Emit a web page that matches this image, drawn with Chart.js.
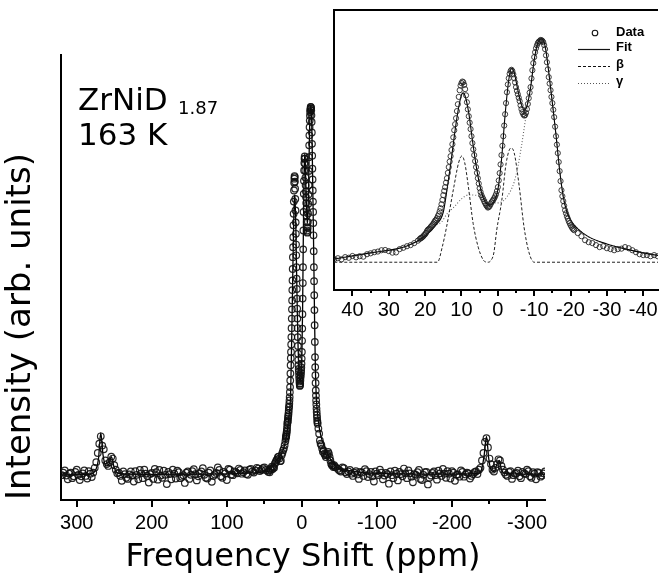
<!DOCTYPE html>
<html>
<head>
<meta charset="utf-8">
<script src="https://cdn.jsdelivr.net/npm/chart.js@4.4.1/dist/chart.umd.min.js"></script>
<style>
  html, body { margin: 0; padding: 0; background: #fff; }
  #wrap { position: relative; width: 663px; height: 575px; overflow: hidden; }
  #main { position: absolute; left: 0; top: 0; }
  #inset { position: absolute; left: 326px; top: 0; }
</style>
</head>
<body>
<div id="wrap">
  <canvas id="main" width="663" height="575"></canvas>
  <canvas id="inset" width="337" height="330"></canvas>
</div>
<script>
// ---- data (intensity in arb. units, main peak ~ 100) ----
// wings, one point every 4 ppm, plus a second set shifted by 2 ppm
const wingStep = 4;
const leftWingStart = 320;   // 320 ... 48 ppm
const leftWing = [
  0.5, 1.8, -0.6, 1.2, 0.2, 2.0, -0.8, 1.0, 0.3, 1.6,
  0.0, 2.5, 6.5, 11.0, 7.5, 3.5, 4.0, 5.0, 2.0, 1.2,
  -1.0, 0.8, -0.5, 1.5, -1.2, 0.6, 1.9, -0.3, 0.9, -1.5,
  1.1, 2.2, -0.7, 0.4, 1.7, -1.9, 0.8, 2.0, -0.4, 1.3,
  0.1, -1.6, 1.5, 0.6, 2.1, -0.9, 1.0, 2.4, -0.2, 1.2,
  -1.3, 0.7, 2.6, 0.2, 1.4, -0.8, 2.0, 0.5, 1.3, 2.3,
  0.9, 1.8, 0.6, 2.2, 1.2, 2.5, 1.6, 2.4, 1.9
];
const leftWingMidStart = 318; // 318 ... 50 ppm
const leftWingMid = [
  1.2, 0.4, 0.9, -0.3, 1.4, 0.6, 0.2, 1.8, -0.4, 0.9,
  1.2, 4.0, 9.0, 8.5, 4.5, 3.0, 5.5, 3.2, 1.0, 0.3,
  1.5, -0.2, 0.7, 0.4, 1.6, -0.6, 1.0, 2.0, 0.3, 0.8,
  -0.5, 1.3, 1.9, -0.2, 0.6, 1.4, -0.6, 0.9, 1.7, -0.3,
  0.5, 1.2, -0.5, 1.6, 0.8, 0.2, 1.5, 0.6, -0.4, 1.8,
  0.3, 1.1, 1.9, -0.2, 1.0, 2.2, 0.7, 1.5, 1.0, 1.9,
  1.3, 0.8, 2.0, 1.5, 1.8, 2.3, 1.9, 2.6
];
const rightWingStart = -48;  // -48 ... -324 ppm
const rightWing = [
  2.2, 1.5, 2.4, 0.8, 1.9, 0.3, 1.6, -0.5, 1.2, 2.1,
  0.0, 1.4, -1.2, 0.9, 2.0, -0.6, 1.1, -1.8, 0.5, 1.7,
  -0.9, 0.8, 2.3, -0.3, 1.0, -1.4, 0.6, 1.9, -0.8, 1.3,
  -2.0, 0.4, 1.5, -0.7, 1.0, 2.2, -0.2, 0.9, 1.6, -1.0,
  0.7, 1.8, 0.1, 1.2, -0.4, 0.8, 1.5, 2.0, 4.5, 9.5,
  8.0, 3.5, 1.5, 3.5, 4.5, 2.0, 0.6, 1.4, -0.5, 0.9,
  1.7, -0.3, 1.0, 2.0, 0.2, 1.3, -0.6, 1.1, 0.4, 1.5
];
const rightWingMidStart = -50; // -50 ... -322 ppm
const rightWingMid = [
  1.8, 2.6, 1.3, 1.5, 0.9, 1.2, 0.7, 1.4, 0.3, 1.6,
  0.8, 0.2, 1.5, 0.5, 1.2, 0.4, 0.8, 1.5, -0.3, 0.9,
  1.4, 0.2, 1.0, 1.8, 0.1, 0.8, 1.3, -0.5, 0.6, 1.4,
  -0.2, 1.1, 0.5, 1.7, 0.3, 0.9, 1.6, -0.4, 1.2, 0.6,
  0.1, 1.4, 0.7, 1.0, 0.3, 1.3, 0.8, 2.5, 6.5, 10.5,
  5.0, 2.0, 2.5, 4.8, 3.0, 1.2, 0.3, 1.6, 0.5, 1.1,
  0.2, 1.4, 0.8, 1.6, -0.2, 0.9, 1.3, 0.1, 1.0
];
// centre, 1 ppm steps outside +-22, 0.25 ppm steps inside
const outerLeftStart = 45;   // 45 ... 22
const outerLeft = [
  1.4, 1.8, 1.3, 2.3, 2.0, 2.8, 2.2, 2.7, 2.5, 3.6,
  4.0, 4.5, 4.8, 5.4, 5.5, 5.0, 4.3, 4.4, 5.9, 6.5,
  7.2, 7.7, 8.6, 9.7
];
const coreStep = 0.5;
const coreStart = 21.5;      // 21.5 ... -21
const core = [
  10.4, 11.0, 11.7, 12.6, 14.0, 14.9, 15.8, 16.7, 18.0, 19.1,
  20.7, 22.9, 26.1, 30.2, 33.8, 37.8, 42.8, 47.7, 53.1, 59.4,
  64.8, 71.1, 77.4, 80.6, 81.0, 77.9, 72.0, 65.7, 59.9, 53.6,
  48.2, 42.8, 37.8, 33.3, 30.2, 28.4, 26.6, 25.2, 24.8, 26.1,
  27.5, 28.8, 30.6, 33.8, 40.1, 48.2, 56.7, 66.6, 76.5, 82.8,
  86.0, 86.0, 82.8, 78.8, 75.6, 72.5, 68.9, 66.6, 66.2, 68.9,
  73.8, 78.8, 86.4, 92.3, 96.3, 98.6, 99.5, 99.9, 99.0, 95.9,
  90.0, 83.3, 77.4, 71.6, 65.3, 56.7, 49.1, 41.0, 32.4, 27.5,
  23.4, 20.7, 18.5, 16.7, 15.3, 14.4
];
const coreMidStart = 21.25;  // 21.25 ... -20.75
const coreMid = [
  10.8, 11.3, 12.2, 13.2, 14.6, 15.2, 16.3, 17.3, 18.7, 19.8,
  21.6, 24.3, 28.0, 32.1, 35.8, 40.2, 45.3, 50.5, 56.2, 62.1,
  68.0, 74.4, 79.5, 81.3, 79.8, 75.1, 68.8, 62.8, 56.7, 50.8,
  45.5, 40.2, 35.4, 31.6, 29.2, 27.4, 25.8, 24.6, 25.3, 26.9,
  28.1, 29.6, 32.0, 36.8, 44.0, 52.4, 61.5, 71.6, 80.0, 84.8,
  86.6, 84.6, 80.9, 77.1, 74.0, 70.6, 67.5, 66.0, 67.2, 71.2,
  76.3, 82.7, 89.6, 94.5, 97.6, 99.2, 100.0, 99.6, 97.7, 93.1,
  86.8, 80.4, 74.4, 68.6, 61.0, 52.9, 45.1, 36.5, 29.7, 25.4,
  22.0, 19.6, 17.6, 16.0, 14.8
];
const outerRightStart = -22; // -22 ... -45
const outerRight = [
  13.1, 11.7, 9.9, 9.0, 8.6, 7.7, 6.8, 7.2, 6.3, 5.9,
  5.4, 5.9, 6.1, 6.8, 6.3, 5.4, 4.5, 3.6, 3.2, 3.2,
  2.7, 3.2, 2.7, 2.7
];

// fitted curves, [ppm, intensity]
const fitCenter = [
  [45, 1.5], [35, 4.2], [25, 7.3], [20, 11.8], [17, 16.8], [15, 22.6], [14, 32.5],
  [13, 43.8], [12, 56.4], [11, 67.6], [10, 75.3], [9.5, 76.2], [9, 74.8], [8, 67.2],
  [7, 55.0], [6, 43.8], [5, 34.8], [4, 28.9], [3, 26.2], [2, 25.8], [1, 27.6],
  [0, 32.5], [-1, 46.0], [-2, 66.3], [-3, 82.0], [-3.8, 87.4], [-4.5, 85.2],
  [-5.5, 77.5], [-6.5, 70.8], [-7.3, 68.5], [-8, 70.3], [-9, 78.4], [-10, 91.0],
  [-11, 98.7], [-12, 100.5], [-13, 97.3], [-14, 85.6], [-15, 71.7], [-16, 57.3],
  [-17, 41.5], [-18, 29.4], [-19, 22.6], [-20, 19.0], [-22, 15.0], [-25, 11.4],
  [-30, 8.2], [-35, 6.0], [-40, 4.2], [-45, 2.8]
];
const fitLeftWing = [
  [321, 0.6], [285, 0.7], [276, 1.5], [271, 5], [268, 12], [265, 6], [261, 3],
  [257, 3.5], [254, 5.5], [250, 2.5], [244, 0.9], [200, 0.7], [120, 0.8],
  [80, 1.0], [60, 1.2], [50, 1.4]
];
const fitRightWing = [
  [-50, 2.3], [-60, 1.8], [-100, 1.0], [-200, 0.8], [-236, 1.0], [-240, 2.5],
  [-243, 6], [-246, 11], [-249, 5], [-252, 2], [-256, 1.5], [-260, 3.5],
  [-263, 4.5], [-266, 2], [-270, 1.0], [-300, 0.8], [-324, 0.8]
];
const betaCurve = [
  [45, 0], [16.6, 0], [15.3, 6.8], [14.1, 15.9], [12.1, 33.9], [10.8, 44.7],
  [9.9, 47.8], [9.1, 44.7], [8.1, 33.9], [6.8, 17.5], [5.4, 6.8], [4.0, 1.0],
  [2.8, 0], [2.0, 0.6], [1.1, 4.2], [0.3, 14.5], [-1.1, 28], [-2.3, 44.7],
  [-3.6, 51.4], [-4.5, 49.2], [-5.9, 33.9], [-7.2, 15.9], [-8.6, 4.2], [-10, 0],
  [-45, 0]
];
const gammaCurve = [
  [45, 1.5], [35, 4.2], [25, 7.3], [20, 11.8], [17, 16.8], [15.5, 18.1], [14, 21.7],
  [12, 24.9], [10, 28.5], [8, 30.3], [6, 30.1], [4, 28.9], [2, 27.1], [0, 26.7],
  [-1.5, 27.6], [-2.5, 29.4], [-3.5, 32.1], [-4.5, 36.1], [-5.5, 42.9], [-6.5, 52.3],
  [-7.5, 63.1], [-8.5, 73.9], [-9.5, 84.7], [-10.5, 94.6], [-11.5, 99.6], [-12, 100.5],
  [-13, 97.3], [-14, 85.6], [-15, 71.7], [-16, 57.3], [-17, 41.5], [-18, 29.4],
  [-19, 22.6], [-20, 19.0], [-22, 15.0], [-25, 11.4], [-30, 8.2], [-35, 6.0],
  [-40, 4.2], [-45, 2.8]
];

const mainTicks = [300, 200, 100, 0, -100, -200, -300];
const mainMinorTicks = [250, 150, 50, -50, -150, -250];
const insetTicks = [40, 30, 20, 10, 0, -10, -20, -30, -40];
const insetMinorTicks = [35, 25, 15, 5, -5, -15, -25, -35];
const legendLabels = ['Data', 'Fit', 'β', 'γ'];
const xTitle = 'Frequency Shift (ppm)';
const yTitle = 'Intensity (arb. units)';
const sampleName = 'ZrNiD';
const sampleSub = '1.87';
const sampleTemp = '163 K';

// ---- helpers ----
function gridPoints(start, step, values) {
  return values.map((v, i) => ({ x: start - i * step, y: v }));
}
function pairPoints(list) {
  return list.map(p => ({ x: p[0], y: p[1] }));
}

const centerData = [].concat(
  gridPoints(outerLeftStart, 1, outerLeft),
  gridPoints(coreStart, coreStep, core),
  gridPoints(coreMidStart, coreStep, coreMid),
  gridPoints(outerRightStart, 1, outerRight)
);
const allData = [].concat(
  gridPoints(leftWingStart, wingStep, leftWing),
  gridPoints(leftWingMidStart, wingStep, leftWingMid),
  centerData,
  gridPoints(rightWingStart, wingStep, rightWing),
  gridPoints(rightWingMidStart, wingStep, rightWingMid)
);
const allFit = pairPoints([].concat(fitLeftWing, fitCenter, fitRightWing));

const TICK_FONT = { family: "'Liberation Sans', Arial, sans-serif", size: 20 };
const BIG_FONT = "'DejaVu Sans', sans-serif";

Chart.defaults.color = '#000';
Chart.defaults.font.family = "'Liberation Sans', Arial, sans-serif";

const minorTicks = {
  id: 'minorTicks',
  afterDraw(chart, args, opts) {
    const sx = chart.scales.x, ctx = chart.ctx, y0 = chart.chartArea.bottom;
    ctx.save();
    ctx.strokeStyle = '#000';
    ctx.lineWidth = 2;
    opts.values.forEach(v => {
      const px = Math.round(sx.getPixelForValue(v));
      ctx.beginPath();
      ctx.moveTo(px, y0);
      ctx.lineTo(px, y0 + opts.length);
      ctx.stroke();
    });
    ctx.restore();
  }
};

const sampleLabel = {
  id: 'sampleLabel',
  afterDraw(chart) {
    const ctx = chart.ctx;
    ctx.save();
    ctx.fillStyle = '#000';
    ctx.textBaseline = 'alphabetic';
    ctx.font = '31px ' + BIG_FONT;
    ctx.fillText(sampleName, 78, 110);
    ctx.fillText(sampleTemp, 78, 145);
    ctx.font = '18px ' + BIG_FONT;
    ctx.fillText(sampleSub, 178, 114);
    ctx.restore();
  }
};

const insetFrame = {
  id: 'insetFrame',
  beforeDraw(chart) {
    const a = chart.chartArea, ctx = chart.ctx;
    ctx.save();
    ctx.fillStyle = '#fff';
    ctx.fillRect(a.left, a.top, a.right - a.left, a.bottom - a.top);
    ctx.restore();
  },
  afterDraw(chart) {
    const a = chart.chartArea, ctx = chart.ctx;
    ctx.save();
    ctx.strokeStyle = '#000';
    ctx.lineWidth = 2;
    ctx.beginPath();
    ctx.moveTo(a.left - 1, a.top);
    ctx.lineTo(a.right, a.top);
    ctx.stroke();
    // legend
    const lx0 = 252, lx1 = 284, tx = 290;
    const rows = [33, 48, 65, 82];
    ctx.font = "bold 13px 'Liberation Sans', Arial, sans-serif";
    ctx.textBaseline = 'middle';
    ctx.fillStyle = '#000';
    ctx.lineWidth = 1.1;
    ctx.strokeStyle = '#111';
    ctx.beginPath();
    ctx.arc(269, rows[0], 2.8, 0, Math.PI * 2);
    ctx.stroke();
    const dashes = [[], [3, 2], [1, 2]];
    for (let i = 1; i < 4; i++) {
      ctx.setLineDash(dashes[i - 1]);
      ctx.strokeStyle = i === 3 ? '#555' : '#111';
      ctx.lineWidth = i === 1 ? 1.2 : 1;
      ctx.beginPath();
      ctx.moveTo(lx0, rows[i] + 1.5);
      ctx.lineTo(lx1, rows[i] + 1.5);
      ctx.stroke();
    }
    ctx.setLineDash([]);
    legendLabels.forEach((t, i) => ctx.fillText(t, tx, rows[i] - 1));
    ctx.restore();
  }
};

new Chart(document.getElementById('main'), {
  type: 'scatter',
  data: {
    datasets: [{
      label: 'Data',
      data: allData,
      showLine: false,
      pointRadius: 3.3,
      pointBorderWidth: 1.2,
      pointBorderColor: 'rgba(15,15,15,0.9)',
      pointBackgroundColor: 'rgba(255,255,255,0)'
    }, {
      label: 'Fit',
      data: allFit,
      showLine: true,
      pointRadius: 0,
      borderColor: '#000',
      borderWidth: 1.3,
      cubicInterpolationMode: 'monotone'
    }]
  },
  options: {
    responsive: false,
    animation: false,
    devicePixelRatio: 1,
    layout: { padding: { left: 0, top: 55, right: 118, bottom: 0 } },
    plugins: {
      legend: { display: false },
      tooltip: { enabled: false },
      minorTicks: { values: mainMinorTicks, length: 4 }
    },
    scales: {
      x: {
        type: 'linear',
        min: -324, max: 321, reverse: true,
        afterBuildTicks: s => { s.ticks = mainTicks.map(v => ({ value: v })); },
        afterFit: s => { s.height = 75; },
        ticks: { font: TICK_FONT, padding: 4, maxRotation: 0, autoSkip: false },
        grid: { drawOnChartArea: false, drawTicks: true, tickLength: 7, color: '#000', lineWidth: 2 },
        border: { display: true, color: '#000', width: 2 },
        title: { display: true, text: xTitle, font: { family: BIG_FONT, size: 32, lineHeight: 1.1 }, padding: 0 }
      },
      y: {
        type: 'linear',
        min: -6.2, max: 114,
        afterFit: s => { s.width = 61; },
        ticks: { display: false },
        grid: { display: false },
        border: { display: true, color: '#000', width: 2 },
        title: { display: true, text: yTitle, align: 'start', font: { family: BIG_FONT, size: 34, lineHeight: 1.1 }, padding: { top: 2, bottom: 0 } }
      }
    }
  },
  plugins: [minorTicks, sampleLabel]
});

new Chart(document.getElementById('inset'), {
  type: 'scatter',
  data: {
    datasets: [{
      label: 'Data',
      data: centerData,
      showLine: false,
      pointRadius: 2.6,
      pointBorderWidth: 1,
      pointBorderColor: 'rgba(30,30,30,0.85)',
      pointBackgroundColor: 'rgba(255,255,255,0)'
    }, {
      label: 'Fit',
      data: pairPoints(fitCenter),
      showLine: true, pointRadius: 0,
      borderColor: '#000', borderWidth: 1.1,
      cubicInterpolationMode: 'monotone'
    }, {
      label: 'β',
      data: pairPoints(betaCurve),
      showLine: true, pointRadius: 0,
      borderColor: '#222', borderWidth: 1, borderDash: [3, 2],
      cubicInterpolationMode: 'monotone'
    }, {
      label: 'γ',
      data: pairPoints(gammaCurve),
      showLine: true, pointRadius: 0,
      borderColor: '#666', borderWidth: 1.1, borderDash: [1, 2],
      cubicInterpolationMode: 'monotone'
    }]
  },
  options: {
    responsive: false,
    animation: false,
    devicePixelRatio: 1,
    layout: { padding: { left: 0, top: 10, right: 0, bottom: 0 } },
    plugins: {
      legend: { display: false },
      tooltip: { enabled: false },
      minorTicks: { values: insetMinorTicks, length: 3 }
    },
    scales: {
      x: {
        type: 'linear',
        min: -44.06, max: 45.07, reverse: true,
        afterBuildTicks: s => { s.ticks = insetTicks.map(v => ({ value: v })); },
        afterFit: s => { s.height = 40; },
        ticks: { font: TICK_FONT, padding: 2, maxRotation: 0, autoSkip: false },
        grid: { drawOnChartArea: false, drawTicks: true, tickLength: 6, color: '#000', lineWidth: 2 },
        border: { display: true, color: '#000', width: 2 }
      },
      y: {
        type: 'linear',
        min: -12.5, max: 113.5,
        afterFit: s => { s.width = 8; },
        ticks: { display: false },
        grid: { display: false },
        border: { display: true, color: '#000', width: 2 }
      }
    }
  },
  plugins: [minorTicks, insetFrame]
});
</script>
</body>
</html>
